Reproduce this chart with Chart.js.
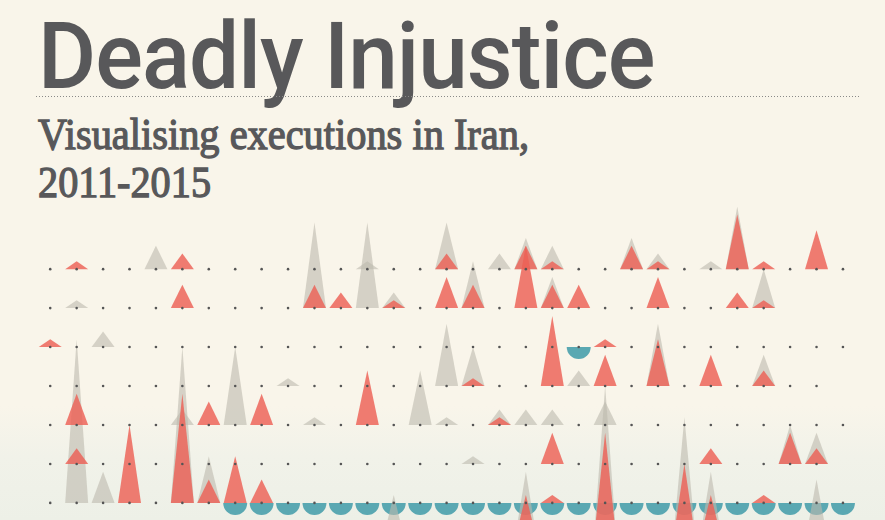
<!DOCTYPE html>
<html>
<head>
<meta charset="utf-8">
<script src="https://cdn.jsdelivr.net/npm/chart.js@4"></script>
<style>
  html, body { margin: 0; padding: 0; }
  body {
    width: 885px; height: 520px; overflow: hidden; position: relative;
    background: linear-gradient(to bottom, #f9f5ea 0%, #f9f5ea 78%, #f1f2e9 88%, #edf0e7 100%);
  }
  .title {
    position: absolute; left: 38px; top: 10px; margin: 0;
    font-family: Roboto, "Noto Sans", sans-serif; font-weight: 500;
    font-size: 93px; line-height: 93px; color: #58585a;
    white-space: nowrap; transform-origin: 0 0; letter-spacing: -1px;
  }
  .rule {
    position: absolute; left: 36px; top: 96px; width: 824px; height: 1px;
    background-image: repeating-linear-gradient(to right, #8a8a88 0 1px, transparent 1px 3px);
  }
  .sub {
    position: absolute; left: 38px; margin: 0;
    font-family: "Liberation Serif", "DejaVu Serif", serif; font-weight: 400;
    -webkit-text-stroke: 1.3px #58585a;
    font-size: 44px; line-height: 48px; color: #58585a;
    white-space: nowrap; transform-origin: 0 0;
  }
  #wrap { position: absolute; left: 0; top: 0; width: 885px; height: 520px; }
</style>
</head>
<body>
<h1 class="title" id="title">Deadly Injustice</h1>
<div class="rule"></div>
<div class="sub" id="sub1" style="top:111px">Visualising executions in Iran,</div>
<div class="sub" id="sub2" style="top:159px">2011-2015</div>
<div id="wrap"><canvas id="grid" width="885" height="520"></canvas></div>

<script>
// one row per month, one column per day
const MONTHS = ['Jan', 'Feb', 'Mar', 'Apr', 'May', 'Jun', 'Jul', 'Aug'];
const MONTH_DAYS = [31, 28, 31, 30, 31, 30, 31, 31];

// [month row, day column, executions]
const RED = [
  [0, 1, 1], [0, 5, 2], [0, 15, 2], [0, 18, 3], [0, 19, 1], [0, 22, 3], [0, 23, 1], [0, 26, 7], [0, 27, 1], [0, 29, 5],
  [1, 5, 3], [1, 10, 3], [1, 11, 2], [1, 13, 1], [1, 15, 4], [1, 16, 3], [1, 18, 8], [1, 19, 3], [1, 20, 3], [1, 23, 4], [1, 26, 2], [1, 27, 1],
  [2, 0, 1], [2, 21, 1],
  [3, 16, 1], [3, 19, 9], [3, 21, 4], [3, 23, 6], [3, 25, 4], [3, 27, 2],
  [4, 1, 4], [4, 6, 3], [4, 8, 4], [4, 12, 7], [4, 17, 1],
  [5, 1, 2], [5, 19, 4], [5, 25, 2], [5, 28, 4], [5, 29, 2],
  [6, 3, 10], [6, 5, 14], [6, 6, 3], [6, 7, 6], [6, 8, 3], [6, 19, 1], [6, 27, 1],
  [7, 18, 6], [7, 21, 14], [7, 24, 10], [7, 25, 6]
];
const GREY = [
  [0, 4, 3], [0, 12, 1], [0, 15, 6], [0, 17, 2], [0, 18, 4], [0, 19, 3], [0, 22, 4], [0, 23, 2], [0, 25, 1], [0, 26, 8],
  [1, 1, 1], [1, 10, 11], [1, 12, 11], [1, 13, 2], [1, 16, 6], [1, 19, 4], [1, 27, 5],
  [2, 2, 2],
  [3, 9, 1], [3, 15, 8], [3, 16, 5], [3, 20, 2], [3, 23, 8], [3, 27, 4],
  [4, 5, 2], [4, 7, 10], [4, 10, 1], [4, 14, 7], [4, 15, 1], [4, 17, 2], [4, 18, 2], [4, 19, 2], [4, 21, 3],
  [5, 16, 1], [5, 28, 5], [5, 29, 4],
  [6, 1, 21], [6, 2, 4], [6, 5, 20], [6, 6, 6],
  [7, 13, 6], [7, 18, 9], [7, 21, 20], [7, 24, 16], [7, 25, 9], [7, 29, 8]
];
// [month row, day column]
const BLUE = [
  [2, 20],
  [6, 7], [6, 8], [6, 9], [6, 10], [6, 11], [6, 12], [6, 13], [6, 14], [6, 15], [6, 16], [6, 17], [6, 18],
  [6, 19], [6, 20], [6, 21], [6, 22], [6, 23], [6, 24], [6, 25], [6, 26], [6, 27], [6, 28], [6, 29], [6, 30]
];

const ROW_GAP = 5; // rows are 5 executions apart on the y scale
const rowBase = r => (6 - r) * ROW_GAP;

const dots = [];
MONTH_DAYS.forEach((days, r) => {
  for (let d = 0; d < days; d++) dots.push({ x: d, y: rowBase(r) });
});
const toPoints = list => list.map(([r, c, n]) => ({ x: c, y: rowBase(r), n: n || 0 }));

// draws triangles / half discs for datasets flagged with "shape"
const shapePlugin = {
  id: 'shapes',
  afterDatasetDraw(chart, args) {
    const ds = chart.data.datasets[args.index];
    if (!ds.shape) return;
    const ctx = chart.ctx;
    const yScale = chart.scales.y;
    ctx.save();
    ctx.fillStyle = ds.color;
    args.meta.data.forEach((el, i) => {
      const raw = ds.data[i];
      ctx.beginPath();
      if (ds.shape === 'triangle') {
        const apex = yScale.getPixelForValue(raw.y + raw.n);
        ctx.moveTo(el.x - 11.5, el.y);
        ctx.lineTo(el.x, apex);
        ctx.lineTo(el.x + 11.5, el.y);
      } else {
        ctx.arc(el.x, el.y, 12, 0, Math.PI);
      }
      ctx.closePath();
      ctx.fill();
    });
    ctx.restore();
  }
};

new Chart(document.getElementById('grid'), {
  type: 'scatter',
  data: {
    datasets: [
      { label: 'Days', data: dots, pointRadius: 1.3, pointBorderWidth: 0, pointBackgroundColor: '#555555', order: 0 },
      { label: 'Red', data: toPoints(RED), shape: 'triangle', color: 'rgba(237, 96, 86, 0.82)', pointRadius: 0, order: 1 },
      { label: 'Grey', data: toPoints(GREY), shape: 'triangle', color: 'rgba(188, 185, 174, 0.6)', pointRadius: 0, order: 2 },
      { label: 'Blue', data: toPoints(BLUE), shape: 'half', color: '#5aa8b2', pointRadius: 0, order: 3 }
    ]
  },
  options: {
    responsive: false,
    animation: false,
    events: [],
    layout: { padding: 0 },
    plugins: { legend: { display: false }, tooltip: { enabled: false } },
    scales: {
      x: { type: 'linear', min: -1.75, max: 31.44, display: false },
      y: { type: 'linear', min: -1.68, max: 64.03, display: false }
    }
  },
  plugins: [shapePlugin]
});

// squeeze the headings to the widths of the original
function fit(id, w) {
  const el = document.getElementById(id);
  el.style.transform = 'scaleX(' + (w / el.scrollWidth) + ')';
}
document.fonts.ready.then(() => {
  fit('title', 617);
  fit('sub1', 491);
  fit('sub2', 173);
});
</script>
</body>
</html>
